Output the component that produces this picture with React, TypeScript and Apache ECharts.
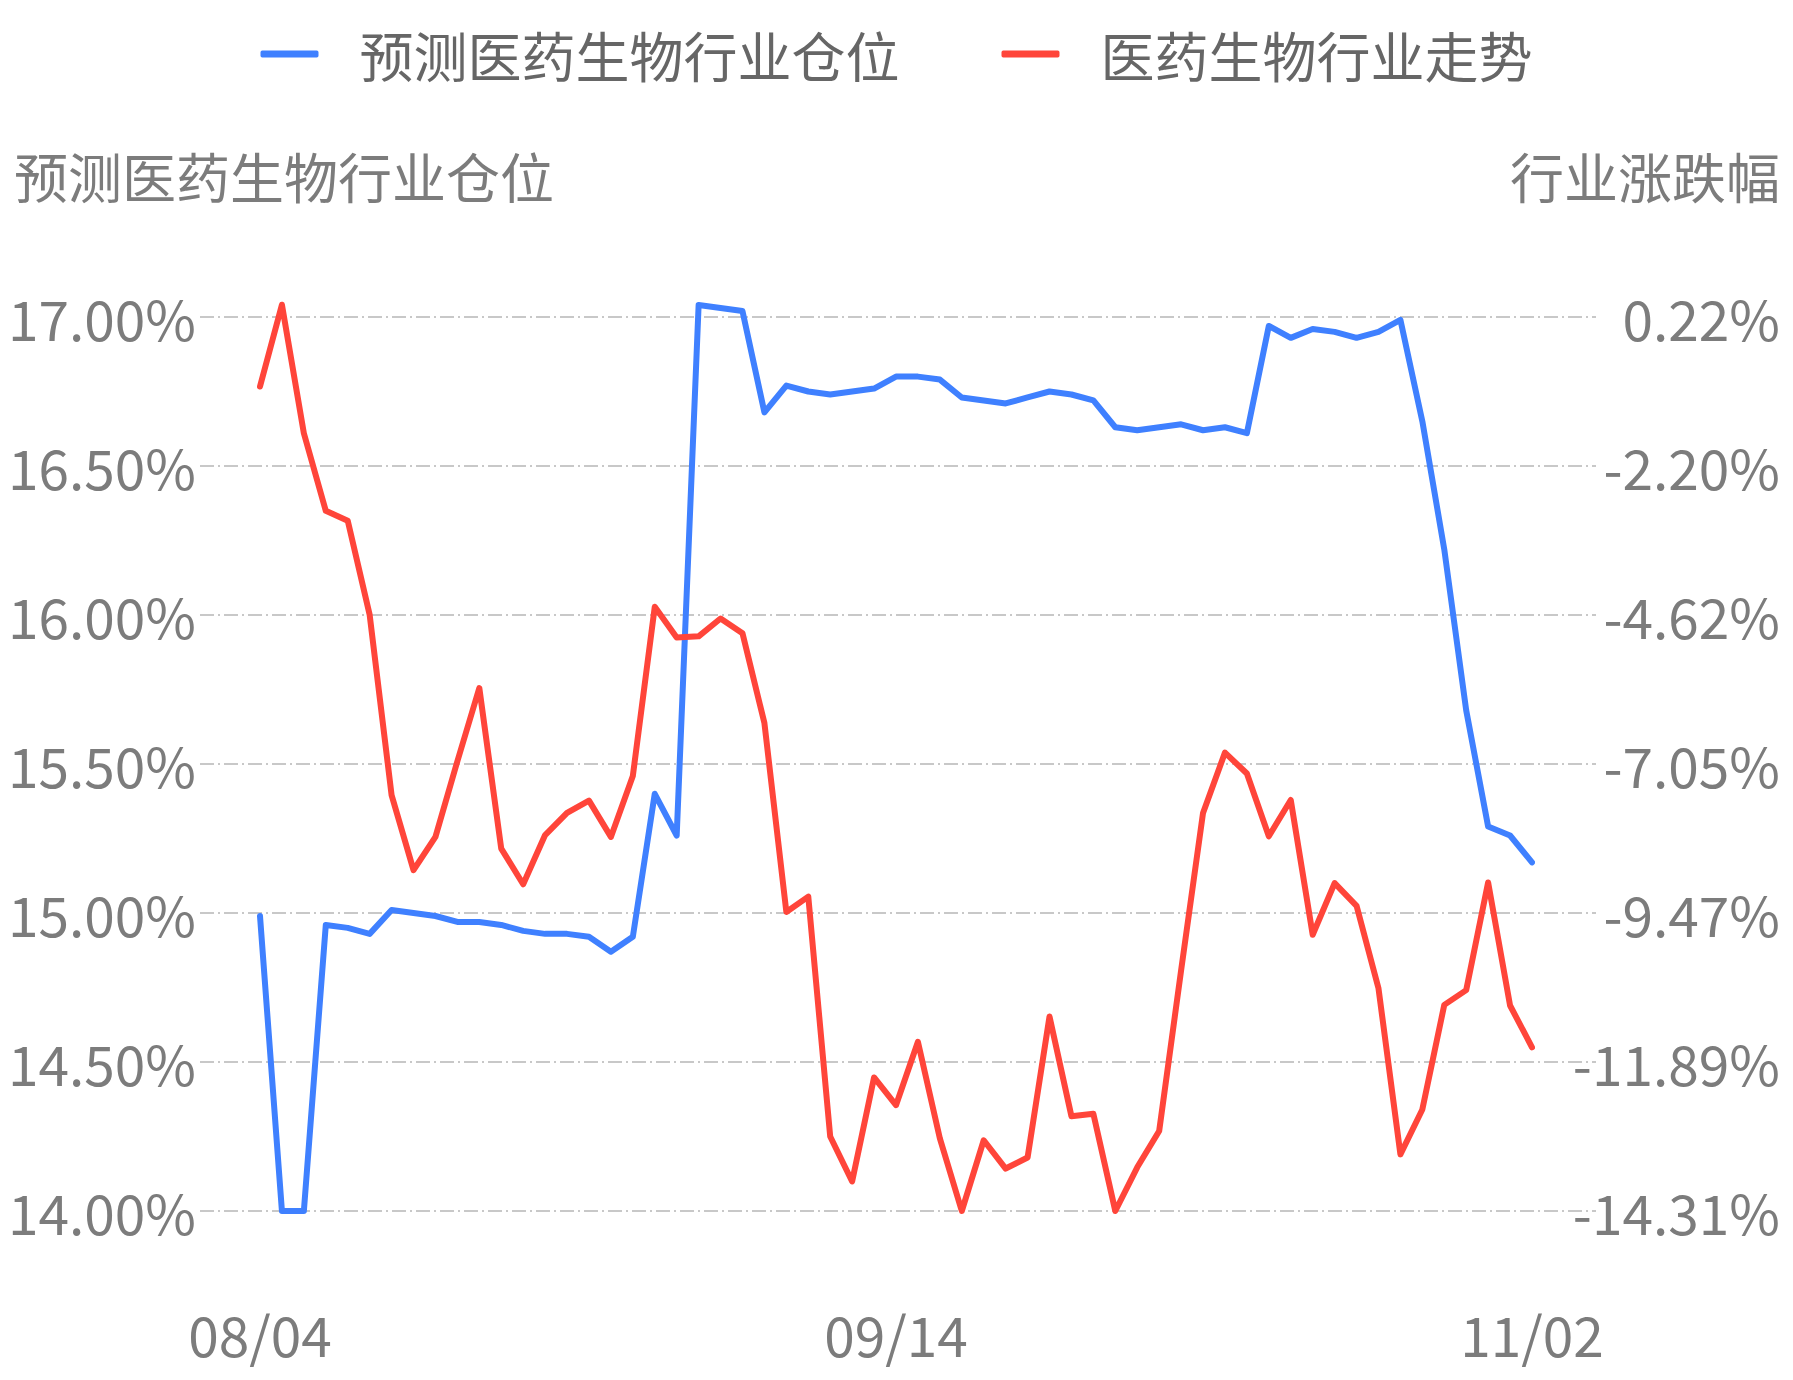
import React, { useEffect, useRef } from 'react';
import * as echarts from 'echarts';

// trading days, 2020-08-04 .. 2020-11-02
const tradeDates = [
  '08/04', '08/05', '08/06', '08/07', '08/10', '08/11', '08/12', '08/13', '08/14', '08/17',
  '08/18', '08/19', '08/20', '08/21', '08/24', '08/25', '08/26', '08/27', '08/28', '08/31',
  '09/01', '09/02', '09/03', '09/04', '09/07', '09/08', '09/09', '09/10', '09/11', '09/14',
  '09/15', '09/16', '09/17', '09/18', '09/21', '09/22', '09/23', '09/24', '09/25', '09/28',
  '09/29', '09/30', '10/09', '10/12', '10/13', '10/14', '10/15', '10/16', '10/19', '10/20',
  '10/21', '10/22', '10/23', '10/26', '10/27', '10/28', '10/29', '10/30', '11/02'
];

// 预测医药生物行业仓位 (%), left axis
const positionValues = [
  14.99, 14.0, 14.0, 14.96, 14.95, 14.93, 15.01, 15.0, 14.99, 14.97,
  14.97, 14.96, 14.94, 14.93, 14.93, 14.92, 14.87, 14.92, 15.4, 15.26,
  17.04, 17.03, 17.02, 16.68, 16.77, 16.75, 16.74, 16.75, 16.76, 16.8,
  16.8, 16.79, 16.73, 16.72, 16.71, 16.73, 16.75, 16.74, 16.72, 16.63,
  16.62, 16.63, 16.64, 16.62, 16.63, 16.61, 16.97, 16.93, 16.96, 16.95,
  16.93, 16.95, 16.99, 16.65, 16.22, 15.68, 15.29, 15.26, 15.17
];

// 医药生物行业走势 (%), right axis
const trendValues = [
  -0.91, 0.42, -1.67, -2.93, -3.09, -4.62, -7.55, -8.77, -8.23, -7.0,
  -5.81, -8.42, -9.0, -8.2, -7.84, -7.64, -8.23, -7.24, -4.49, -4.99,
  -4.97, -4.68, -4.92, -6.38, -9.45, -9.2, -13.1, -13.83, -12.14, -12.59,
  -11.56, -13.13, -14.31, -13.16, -13.62, -13.44, -11.15, -12.77, -12.73, -14.31,
  -13.6, -13.01, -10.4, -7.84, -6.86, -7.2, -8.22, -7.63, -9.82, -8.98,
  -9.35, -10.69, -13.39, -12.66, -10.96, -10.72, -8.97, -10.97, -11.65
];

const leftRange = [14, 17];
const rightRange = [-14.31, 0.22];
const splitCount = 6;

const FONT = '"Noto Sans CJK SC", "Noto Sans", sans-serif';
const BLUE = '#3F80FF';
const RED = '#FF453A';
const LABEL = '#7c7c7c';

const pct = (v: number) => {
  const s = v < 0 ? -1 : 1;
  const r = (s * Math.round(Math.abs(v) * 100 + 1e-6)) / 100;
  return r.toFixed(2) + '%';
};

const App: React.FC = () => {
  const chartRef = useRef<HTMLDivElement>(null);

  useEffect(() => {
    if (!chartRef.current) return;
    const chart = echarts.init(chartRef.current, undefined, { renderer: 'svg' });

    const splitLine = {
      show: true,
      lineStyle: { color: '#c8c8c8', width: 2, type: [14, 4, 2, 4] as any }
    };
    const hidden = { show: false };

    const option: echarts.EChartsOption = {
      animation: false,
      textStyle: { fontFamily: FONT },
      legend: {
        top: 22,
        left: 'center',
        icon: 'roundRect',
        itemWidth: 58,
        itemHeight: 7,
        itemGap: 102,
        textStyle: { color: '#666', fontSize: 54, fontFamily: FONT, padding: [0, 0, 0, 36] },
        data: ['预测医药生物行业仓位', '医药生物行业走势']
      },
      graphic: [
        {
          type: 'text',
          left: 14,
          top: 148,
          style: { text: '预测医药生物行业仓位', font: `54px ${FONT}`, fill: LABEL }
        },
        {
          type: 'text',
          right: 13,
          top: 148,
          style: { text: '行业涨跌幅', font: `54px ${FONT}`, fill: LABEL }
        }
      ],
      grid: [
        { left: 200, right: 197, top: 317, bottom: 169 },
        { left: 260, right: 261, top: 317, bottom: 169 }
      ],
      xAxis: [
        { gridIndex: 0, type: 'value', min: 0, max: 1, show: false },
        {
          gridIndex: 1,
          type: 'category',
          data: tradeDates,
          boundaryGap: false,
          axisLine: hidden,
          axisTick: hidden,
          splitLine: hidden,
          axisLabel: {
            interval: 28,
            margin: 94,
            color: LABEL,
            fontSize: 55,
            fontFamily: FONT
          }
        }
      ],
      yAxis: [
        {
          gridIndex: 0,
          type: 'value',
          min: leftRange[0],
          max: leftRange[1],
          interval: (leftRange[1] - leftRange[0]) / splitCount,
          axisLine: hidden,
          axisTick: hidden,
          splitLine,
          axisLabel: {
            margin: 4,
            color: LABEL,
            fontSize: 55,
            fontFamily: FONT,
            formatter: (v: number) => pct(v)
          }
        },
        {
          gridIndex: 0,
          type: 'value',
          position: 'right',
          min: rightRange[0],
          max: rightRange[1],
          interval: (rightRange[1] - rightRange[0]) / splitCount,
          axisLine: hidden,
          axisTick: hidden,
          splitLine: hidden,
          axisLabel: {
            margin: 184,
            align: 'right',
            color: LABEL,
            fontSize: 55,
            fontFamily: FONT,
            formatter: (v: number) => pct(v)
          }
        },
        { gridIndex: 1, type: 'value', min: leftRange[0], max: leftRange[1], show: false, splitLine: hidden },
        { gridIndex: 1, type: 'value', min: rightRange[0], max: rightRange[1], show: false, splitLine: hidden }
      ],
      series: [
        {
          name: '预测医药生物行业仓位',
          type: 'line',
          xAxisIndex: 1,
          yAxisIndex: 2,
          data: positionValues,
          showSymbol: false,
          clip: false,
          itemStyle: { color: BLUE },
          lineStyle: { color: BLUE, width: 6, join: 'round', cap: 'round' } as any
        },
        {
          name: '医药生物行业走势',
          type: 'line',
          xAxisIndex: 1,
          yAxisIndex: 3,
          data: trendValues,
          showSymbol: false,
          clip: false,
          itemStyle: { color: RED },
          lineStyle: { color: RED, width: 6, join: 'round', cap: 'round' } as any
        }
      ]
    };

    chart.setOption(option);
    return () => {
      chart.dispose();
    };
  }, []);

  return (
    <div
      ref={chartRef}
      style={{ position: 'absolute', left: 0, top: 0, width: 1793, height: 1380, background: '#fff' }}
    />
  );
};

export default App;
